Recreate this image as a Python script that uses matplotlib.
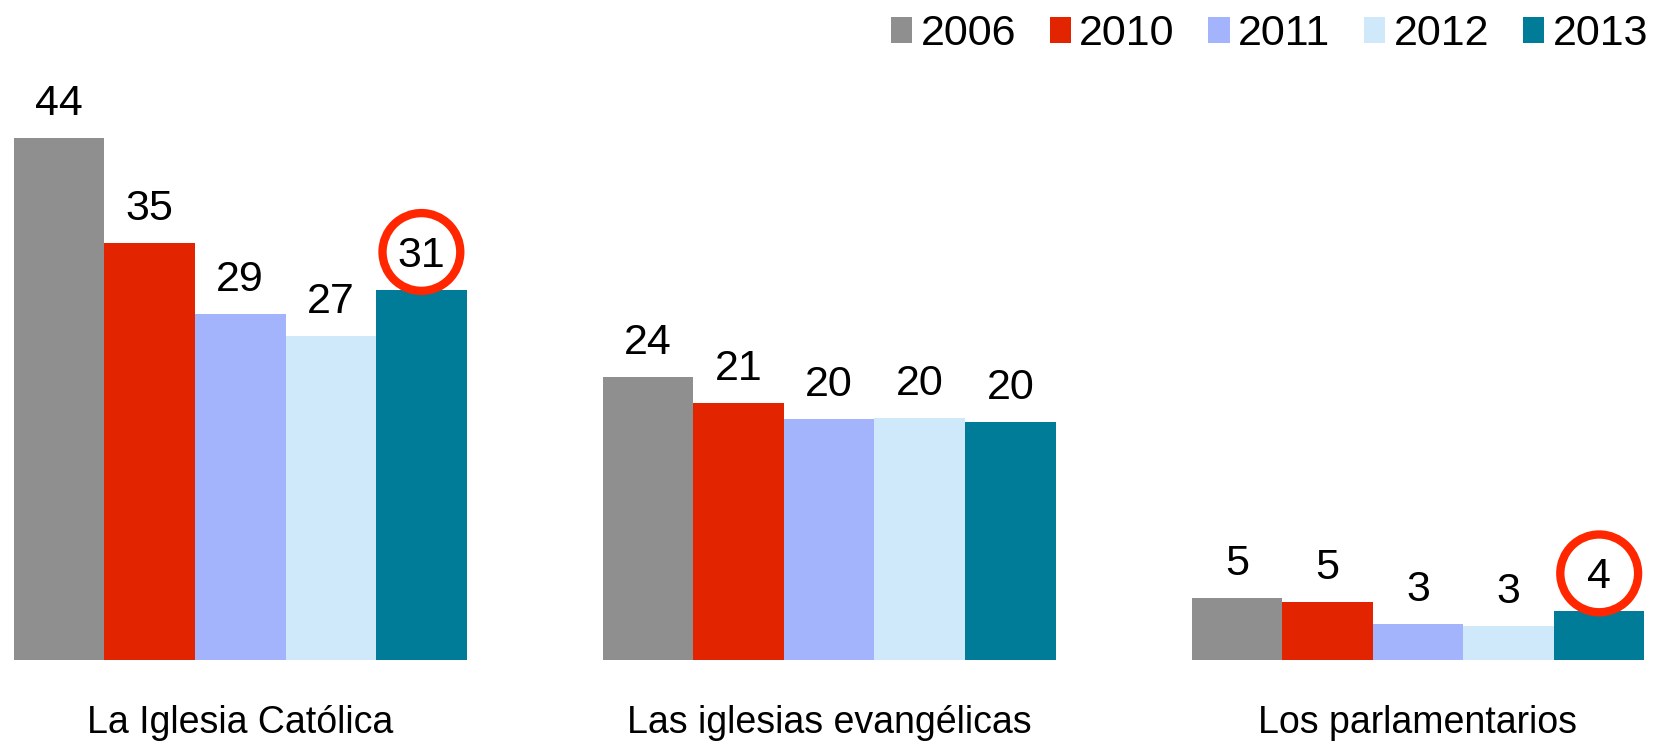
import matplotlib
matplotlib.use('Agg')
import matplotlib.pyplot as plt
import matplotlib.transforms as mtransforms
from matplotlib.patches import Patch
import numpy as np

plt.rcParams['font.family'] = ['Liberation Sans', 'DejaVu Sans']

categories = ['La Iglesia Católica', 'Las iglesias evangélicas', 'Los parlamentarios']
years = ['2006', '2010', '2011', '2012', '2013']
# bar heights
values = {
    '2006': [44.0, 23.9, 5.2],
    '2010': [35.2, 21.7, 4.9],
    '2011': [29.2, 20.3, 3.05],
    '2012': [27.3, 20.4, 2.9],
    '2013': [31.2, 20.1, 4.1],
}
# printed labels
labels = {
    '2006': [44, 24, 5],
    '2010': [35, 21, 5],
    '2011': [29, 20, 3],
    '2012': [27, 20, 3],
    '2013': [31, 20, 4],
}
colors = ['#8F8F8F', '#E32400', '#A3B4FD', '#CFE9FA', '#017C98']
# (category index, year) pairs that get the red ring
highlight = [(0, '2013'), (2, '2013')]

fig = plt.figure(figsize=(16.55, 7.41), dpi=100, facecolor='white')
ax = fig.add_axes([13.7 / 1655, 81 / 741, 1630.8 / 1655, 660 / 741])

group_step = 6.5
centers = np.arange(len(categories)) * group_step
offsets = np.arange(len(years)) - (len(years) - 1) / 2

for j, (yr, col) in enumerate(zip(years, colors)):
    xs = centers + offsets[j]
    ax.bar(xs, values[yr], width=1.0, color=col, label=yr)
    for x, v, lab in zip(xs, values[yr], labels[yr]):
        ax.annotate(str(lab), xy=(x, v), xytext=(0, 23), textcoords='offset pixels',
                    ha='center', va='baseline', fontsize=31, color='black')

# red rings around highlighted labels
ring_tr = mtransforms.offset_copy(ax.transData, fig=fig, x=0, y=38, units='dots')
for ci, yr in highlight:
    j = years.index(yr)
    ax.scatter([centers[ci] + offsets[j]], [values[yr][ci]], s=56 ** 2,
               facecolors='none', edgecolors='#FF2600', linewidths=6,
               transform=ring_tr, zorder=5, clip_on=False)

for c, name in zip(centers, categories):
    ax.annotate(name, xy=(c, 0), xycoords=('data', 'axes fraction'),
                xytext=(0, -73), textcoords='offset pixels',
                ha='center', va='baseline', fontsize=27, color='black')

ax.set_xlim(-2.5, centers[-1] + 2.5)
ax.set_ylim(0, 660 / 11.86)
ax.axis('off')

handles = [Patch(facecolor=c, edgecolor='none') for c in colors]
fig.legend(handles, years, loc='upper right', bbox_to_anchor=(1648 / 1655, 1 - 14 / 741),
           ncol=5, frameon=False, fontsize=31, borderpad=0, borderaxespad=0,
           handlelength=0.49, handleheight=0.55, handletextpad=0.2, columnspacing=0.78)

fig.savefig('out.png', dpi=100, facecolor='white')
